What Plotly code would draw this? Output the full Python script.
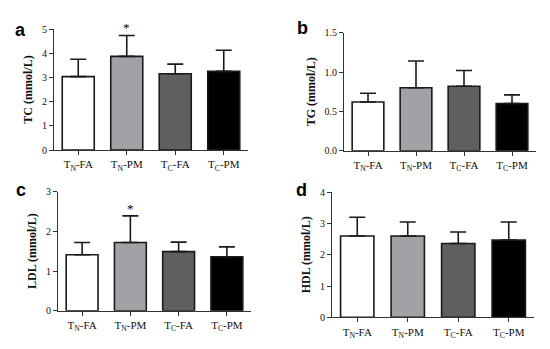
import plotly.graph_objects as go

categories = ["T<sub>N</sub>-FA", "T<sub>N</sub>-PM", "T<sub>C</sub>-FA", "T<sub>C</sub>-PM"]
bar_colors = ["#ffffff", "#a2a2a6", "#5f5f5f", "#000000"]

tc_mean = [3.03, 3.87, 3.15, 3.25]
tc_sd = [0.72, 0.86, 0.40, 0.87]
tg_mean = [0.62, 0.80, 0.82, 0.60]
tg_sd = [0.11, 0.34, 0.20, 0.11]
ldl_mean = [1.41, 1.72, 1.49, 1.36]
ldl_sd = [0.31, 0.67, 0.24, 0.25]
hdl_mean = [2.60, 2.60, 2.36, 2.47]
hdl_sd = [0.60, 0.45, 0.37, 0.58]

# page body has an 8px margin; figure occupies the rest of the 550x349 window
OFF = 8
W, H = 550 - OFF, 349 - OFF


def fx(px):
    return (px - OFF) / W


def fy(py):
    return 1 - (py - OFF) / H


panels = [
    # label, ytitle, mean, sd, x0, x1, ypix0, ypix_top, yrange, tickvals, fmt
    ("a", "TC (mmol/L)", tc_mean, tc_sd, 54, 248, 150, 29, [0, 5], [0, 1, 2, 3, 4, 5], "d"),
    ("b", "TG (mmol/L)", tg_mean, tg_sd, 344, 536, 150.7, 32.7, [0, 1.5], [0, 0.5, 1.0, 1.5], ".1f"),
    ("c", "LDL (mmol/L)", ldl_mean, ldl_sd, 58, 251, 310.7, 191.7, [0, 3], [0, 1, 2, 3], "d"),
    ("d", "HDL (mmol/L)", hdl_mean, hdl_sd, 332, 534, 317.3, 192.3, [0, 4], [0, 1, 2, 3, 4], "d"),
]

fig = go.Figure()
serif = "Liberation Serif"
for i, (lab, ytitle, mean, sd, x0, x1, yb, yt, yr, tv, fmt) in enumerate(panels):
    n = "" if i == 0 else str(i + 1)
    fig.add_trace(go.Bar(
        x=categories, y=mean,
        marker=dict(color=bar_colors, line=dict(color="#1a1a1a", width=1.6)),
        width=0.66,
        error_y=dict(type="data", array=sd, arrayminus=[0] * len(sd), symmetric=False,
                     color="#1a1a1a", thickness=1.6, width=8),
        xaxis="x" + n, yaxis="y" + n, showlegend=False,
    ))
    fig.layout["xaxis" + n] = dict(
        domain=[fx(x0), fx(x1)], anchor="y" + n, range=[-0.5, 3.5], automargin=False,
        showline=True, linecolor="#333", linewidth=1.2, ticks="outside", ticklen=4,
        tickcolor="#333", tickfont=dict(family=serif, size=11, color="#111"),
        showgrid=False, zeroline=False, fixedrange=True,
    )
    fig.layout["yaxis" + n] = dict(
        domain=[fy(yb), fy(yt)], anchor="x" + n, range=yr, automargin=False,
        tickvals=tv, tickformat=fmt,
        showline=True, linecolor="#333", linewidth=1.2, ticks="outside", ticklen=4,
        tickcolor="#333", tickfont=dict(family=serif, size=10, color="#111"),
        title=dict(text="<b>" + ytitle + "</b>", font=dict(family=serif, size=12, color="#111"), standoff=6),
        showgrid=False, zeroline=False, fixedrange=True,
    )

labels_pos = [("a", 20, 30), ("b", 302, 28), ("c", 21, 190), ("d", 301, 190)]
for lab, px, py in labels_pos:
    fig.add_annotation(text="<b>" + lab + "</b>", x=fx(px), y=fy(py), xref="paper", yref="paper",
                       xanchor="center", yanchor="middle",
                       showarrow=False, font=dict(family="Liberation Sans", size=18, color="#000"))

fig.add_annotation(text="*", x=categories[1], y=fy(28), xref="x", yref="paper", showarrow=False,
                   xanchor="center", yanchor="middle",
                   font=dict(family=serif, size=13, color="#000"))
fig.add_annotation(text="*", x=categories[1], y=fy(208), xref="x3", yref="paper", showarrow=False,
                   xanchor="center", yanchor="middle",
                   font=dict(family=serif, size=13, color="#000"))

fig.update_layout(width=W, height=H, margin=dict(l=0, r=0, t=0, b=0),
                  paper_bgcolor="white", plot_bgcolor="white", bargap=0.34)
fig.write_html("out.html")
